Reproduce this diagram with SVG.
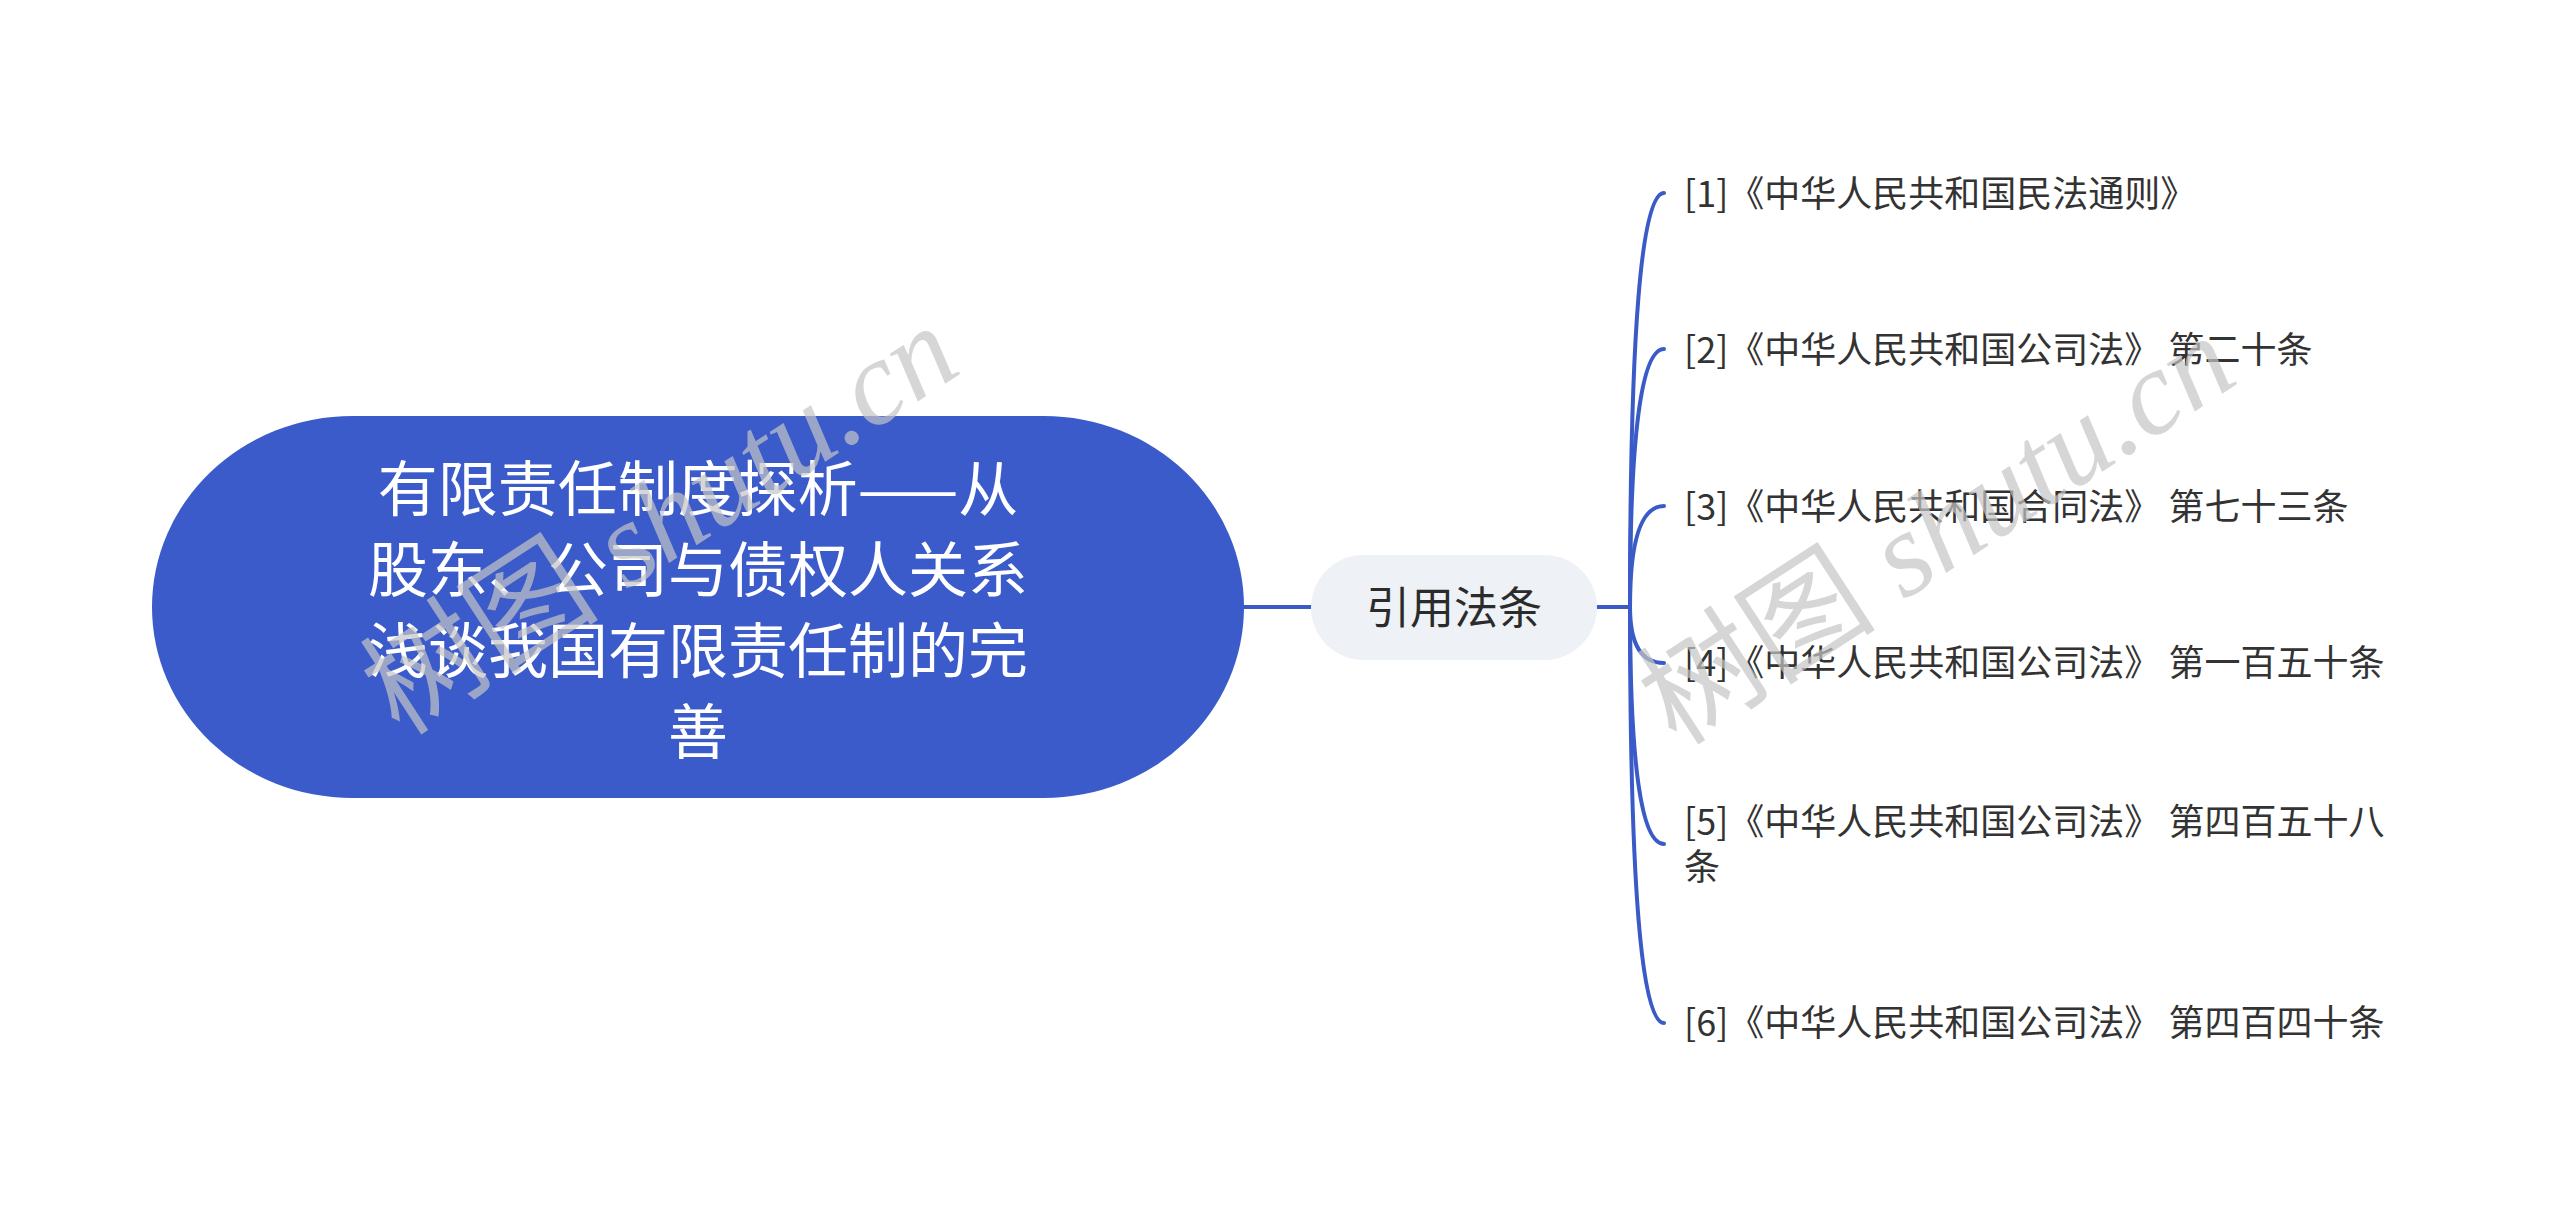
<svg xmlns="http://www.w3.org/2000/svg" width="2560" height="1214" viewBox="0 0 2560 1214">
<style>
.cjk{font-family:"Noto Sans CJK SC","Noto Sans",sans-serif;}
.root-text{font-size:60px;fill:#ffffff;text-anchor:middle;dominant-baseline:central;}
.mid-text{font-size:44px;fill:#2b2b2b;text-anchor:middle;dominant-baseline:central;}
.leaf-text{font-size:36px;fill:#333333;dominant-baseline:central;}
.conn{fill:none;stroke:#3a5bc7;stroke-width:4;stroke-linecap:round;}
.wm{font-family:"Liberation Serif","Noto Sans CJK SC",serif;font-size:120px;fill:#c4c4c4;fill-opacity:0.7;text-anchor:middle;dominant-baseline:central;}
</style>
<rect width="2560" height="1214" fill="#ffffff"/>
<g id="connectors">
<path class="conn" d="M1244 607 L1311 607"/>
<path class="conn" d="M1597 607 L1630 607"/>
<path class="conn" d="M1630 607 Q1630 193 1664 193"/>
<path class="conn" d="M1630 607 Q1630 349 1664 349"/>
<path class="conn" d="M1630 607 Q1630 506 1664 506"/>
<path class="conn" d="M1630 607 Q1630 663 1664 663"/>
<path class="conn" d="M1630 607 Q1630 844 1664 844"/>
<path class="conn" d="M1630 607 Q1630 1023 1664 1023"/>
</g>
<g id="node-root">
<rect x="152" y="416" width="1092" height="382" rx="200" ry="191" fill="#3b5bcb"/>
<text class="cjk root-text" x="698" y="484">有限责任制度探析——从</text>
<text class="cjk root-text" x="698" y="565">股东、公司与债权人关系</text>
<text class="cjk root-text" x="698" y="646">浅谈我国有限责任制的完</text>
<text class="cjk root-text" x="698" y="727">善</text>
</g>
<g id="node-mid">
<rect x="1311" y="555" width="286" height="105" rx="52.5" fill="#eef1f5"/>
<text class="cjk mid-text" x="1454" y="605">引用法条</text>
</g>
<g id="node-leaf1"><text class="cjk leaf-text" x="1684" y="191">[1]《中华人民共和国民法通则》</text></g>
<g id="node-leaf2"><text class="cjk leaf-text" x="1684" y="347">[2]《中华人民共和国公司法》 第二十条</text></g>
<g id="node-leaf3"><text class="cjk leaf-text" x="1684" y="504">[3]《中华人民共和国合同法》 第七十三条</text></g>
<g id="node-leaf4"><text class="cjk leaf-text" x="1684" y="660">[4]《中华人民共和国公司法》 第一百五十条</text></g>
<g id="node-leaf5"><text class="cjk leaf-text" x="1684" y="819">[5]《中华人民共和国公司法》 第四百五十八</text><text class="cjk leaf-text" x="1684" y="864">条</text></g>
<g id="node-leaf6"><text class="cjk leaf-text" x="1684" y="1020">[6]《中华人民共和国公司法》 第四百四十条</text></g>
<g id="watermarks">
<text class="wm" transform="translate(660 520) rotate(-33)">树图 <tspan font-style="italic">shutu.cn</tspan></text>
<text class="wm" transform="translate(1937 530) rotate(-33)">树图 <tspan font-style="italic">shutu.cn</tspan></text>
</g>
</svg>
